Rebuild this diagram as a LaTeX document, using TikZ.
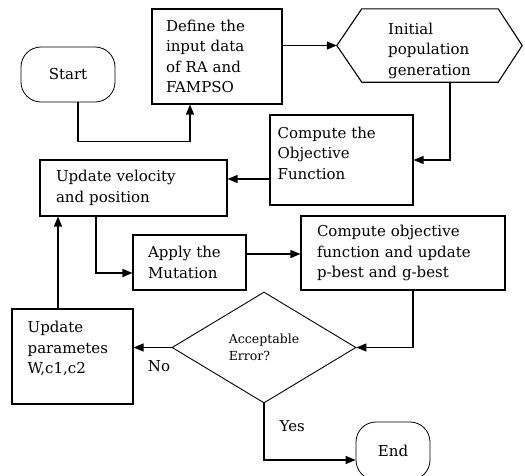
\documentclass[tikz,border=0pt]{standalone}
\usepackage{fontspec}
\setmainfont{DejaVu Serif}
\usetikzlibrary{shapes.geometric,arrows.meta}
\newcommand\myfs{\fontsize{15}{20.5}\selectfont}
\newcommand\mysmallfs{\fontsize{12.5}{17}\selectfont}
\begin{document}
\begin{tikzpicture}[x=1pt,y=-1pt,
  box/.style={draw, line width=1.1pt, rectangle, align=left, font=\myfs},
  txt/.style={align=left, font=\myfs, inner sep=0pt},
  term/.style={draw, line width=0.8pt, rectangle, rounded corners=20pt, font=\myfs},
  arr/.style={line width=1.3pt, -{Triangle[length=10pt,width=8pt]}},
  lbl/.style={font=\myfs, inner sep=0pt}]
\useasboundingbox (0,0) rectangle (525,475);

% nodes
\node[term, minimum width=94pt, minimum height=55pt] (start) at (68,74.5) {Start};
\node[box, minimum width=130pt, minimum height=95pt, inner xsep=14pt, text width=102pt] (define) at (217,56.5)
  {Define the\\input data\\of RA and\\FAMPSO};
\node[minimum width=185pt, minimum height=73pt, inner sep=0pt] (init) at (429.5,45.5) {};
\draw[line width=1.1pt] (init.west) -- ([xshift=25pt]init.north west) -- ([xshift=-24pt]init.north east)
  -- (init.east) -- ([xshift=-24pt]init.south east) -- ([xshift=25pt]init.south west) -- cycle;
\node[txt] (initt) at ([yshift=-5pt]init.center) {Initial\\population\\generation};

\node[box, minimum width=143pt, minimum height=90pt] (compute) at (341.5,160) {};
\node[txt, anchor=west] (computet) at ([xshift=8pt,yshift=7pt]compute.west) {Compute the\\Objective\\Function};

\node[box, minimum width=187pt, minimum height=56pt, inner xsep=16pt, text width=155pt] (upvel) at (133.5,188)
  {Update velocity\\and position};
\node[box, minimum width=113pt, minimum height=55pt, inner xsep=15pt, text width=83pt] (apply) at (189.5,262.5)
  {Apply the\\Mutation};
\node[box, minimum width=204pt, minimum height=74pt, inner xsep=16pt, text width=172pt] (cobj) at (403,253)
  {Compute objective\\function and update\\p-best and g-best};

\node[draw, diamond, line width=0.9pt, minimum width=184pt, minimum height=111pt, inner sep=0pt,
  align=left, font=\mysmallfs] (dec) at (264,347.5) {Acceptable\\Error?};

\node[box, minimum width=121pt, minimum height=95pt] (upar) at (72.5,356.5) {};
\node[txt, anchor=west] (upart) at ([xshift=16pt,yshift=8pt]upar.west) {Update\\parametes\\W,c1,c2};

\node[term, minimum width=74pt, minimum height=58pt] (end) at (393,451) {End};

% connectors
\draw[arr] ([xshift=10pt]start.south) -- ++(0,39) -| ([xshift=-27pt]define.south);
\draw[arr] (define.east |- init.west) -- (init.west);
\draw[arr] ([xshift=20.5pt]init.south) |- (compute.east);
\draw[arr] ([yshift=-19pt]compute.west) -- ([yshift=-19pt]compute.west -| upvel.east);
\draw[arr] ([xshift=-37.5pt]upvel.south) |- ([yshift=-10.5pt]apply.west);
\draw[arr] ([yshift=8.5pt]apply.east) -- ([yshift=8.5pt]apply.east -| cobj.west);
\draw[arr] ([xshift=10pt]cobj.south) |- (dec.east);
\draw[arr] (dec.west) -- (dec.west -| upar.east)
  node[lbl, pos=0.33, below=12pt] (no) {No};
\draw[arr] ([xshift=-14.5pt]upar.north) -- ([xshift=-14.5pt]upar.north |- upvel.south);
\draw[arr] (dec.south) |- ([yshift=-9pt]end.west)
  node[lbl, pos=0.2, anchor=west, xshift=15pt] (yes) {Yes};
\end{tikzpicture}
\end{document}
